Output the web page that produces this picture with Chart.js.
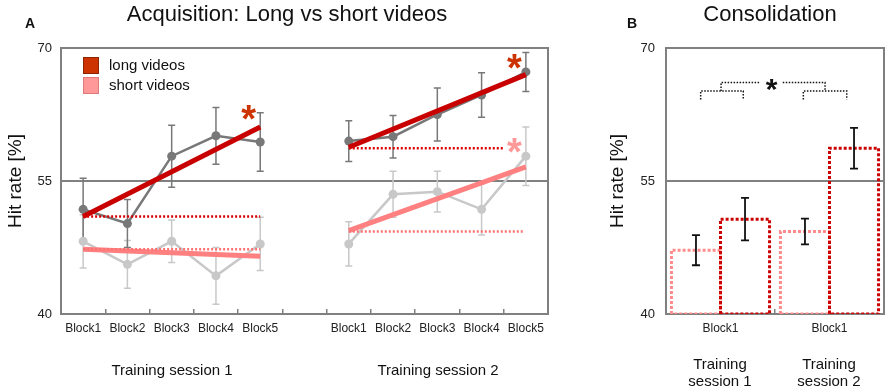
<!DOCTYPE html>
<html><head><meta charset="utf-8">
<script src="https://cdn.jsdelivr.net/npm/chart.js@4.4.1/dist/chart.umd.min.js"></script>
<style>
html,body{margin:0;padding:0;background:#fff;}
body{width:892px;height:391px;position:relative;overflow:hidden;font-family:"Liberation Sans",Arial,sans-serif;color:#111;}
.abs{position:absolute;white-space:nowrap;}
.ctr{transform:translateX(-50%);text-align:center;}
#c1{position:absolute;left:0;top:0;}
#c2{position:absolute;left:590px;top:0;}
.box{position:absolute;width:14px;height:15px;border:1px solid;}
</style></head><body>
<canvas id="c1" width="590" height="391"></canvas>
<canvas id="c2" width="302" height="391"></canvas>
<div class="abs" style="left:25px;top:16px;font-size:14px;line-height:14px;font-weight:bold;">A</div>
<div class="abs" style="left:627px;top:16px;font-size:14px;line-height:14px;font-weight:bold;">B</div>
<div class="abs ctr" style="left:287px;top:3px;font-size:22px;line-height:22px;">Acquisition: Long vs short videos</div>
<div class="abs ctr" style="left:770px;top:3px;font-size:22px;line-height:22px;">Consolidation</div>
<div class="abs ctr" style="left:172px;top:362px;font-size:15px;line-height:15px;">Training session 1</div>
<div class="abs ctr" style="left:438px;top:362px;font-size:15px;line-height:15px;">Training session 2</div>
<div class="abs ctr" style="left:720px;top:355px;font-size:15px;line-height:17px;">Training<br>session 1</div>
<div class="abs ctr" style="left:829px;top:355px;font-size:15px;line-height:17px;">Training<br>session 2</div>
<div class="box" style="left:83px;top:57px;background:#cc3300;border-color:#8a2600;"></div>
<div class="box" style="left:83px;top:77px;background:#ff9999;border-color:#e07a7a;"></div>
<div class="abs" style="left:109px;top:55px;font-size:15px;line-height:20px;">long videos</div>
<div class="abs" style="left:109px;top:75px;font-size:15px;line-height:20px;">short videos</div>
<script>
// ---------- DATA ----------
const categories = ['Block1','Block2','Block3','Block4','Block5','','Block1','Block2','Block3','Block4','Block5'];
const session1Idx = [0,1,2,3,4];
const session2Idx = [6,7,8,9,10];
const yTicks = [40,55,70];

const longS1     = [51.8, 50.2, 57.8, 60.1, 59.4];
const longS1Err  = [3.5, 2.7, 3.5, 3.2, 3.3];
const shortS1    = [48.2, 45.6, 48.2, 44.3, 47.9];
const shortS1Err = [3.0, 2.7, 2.4, 3.2, 3.0];
const longS2     = [59.5, 60.0, 62.5, 64.7, 67.3];
const longS2Err  = [2.3, 2.4, 3.0, 2.5, 2.2];
const shortS2    = [47.9, 53.5, 53.8, 51.8, 57.8];
const shortS2Err = [2.5, 2.6, 2.3, 2.9, 3.3];

// regression lines (start at Block1, end at Block5)
const longTrendS1  = [51.0, 61.1];
const shortTrendS1 = [47.3, 46.5];
const longTrendS2  = [58.8, 67.0];
const shortTrendS2 = [49.4, 56.6];
// baseline (Block1 level) dotted lines: [value, startIdx, endIdx]
const longBaseS1  = [51.0, 0, 4];
const shortBaseS1 = [47.3, 0, 4];
const longBaseS2  = [58.7, 6, 9.48];
const shortBaseS2 = [49.3, 6, 9.94];

// Consolidation
const consCategories = ['Block1','Block1'];
const consShort    = [47.2, 49.3];
const consShortErr = [1.7, 1.45];
const consLong     = [50.7, 58.7];
const consLongErr  = [2.4, 2.3];

// significance annotations
const starsLeft = [
  {x:3.74, y:63.0, color:'#cc3300'},
  {x:9.74, y:68.76, color:'#cc3300'},
  {x:9.74, y:59.3, color:'#ff9999'}
];
const bracketLevels = [64.2, 65.15, 66.1];
const starRight = {x:0.468, y:66.2};

// ---------- HELPERS ----------
const FONT = '"Liberation Sans", Arial, sans-serif';
Chart.defaults.font.family = FONT;
Chart.defaults.color = '#222';
const GRAY = '#808080';
const DARK = '#787878', LIGHT = '#c8c8c8', RED = '#c80000', PINK = '#ff8080';

const pts = (idx, vals) => vals.map((v,k)=>({x:idx[k], y:v}));
const lineDS = (data, color, width, order, extra={}) => Object.assign({
  type:'line', data, xAxisID:'xl', borderColor:color, backgroundColor:color,
  borderWidth:width, pointRadius:0, tension:0, order, fill:false
}, extra);

function makePlugin(cfg){
  return {
    id:'extras'+Math.random().toString(36).slice(2),
    beforeDatasetsDraw(chart){
      const {ctx, chartArea:a} = chart;
      ctx.save(); ctx.strokeStyle = GRAY; ctx.lineWidth = 2;
      ctx.strokeRect(a.left, a.top, a.right-a.left, a.bottom-a.top);
      ctx.restore();
      if(!cfg.errorsOnTop) drawErrors(chart, cfg);
    },
    afterDatasetsDraw(chart){
      if(cfg.errorsOnTop) drawErrors(chart, cfg);
      const ctx = chart.ctx, xs = chart.scales.xl, ys = chart.scales.y;
      (cfg.stars||[]).forEach(s=>{
        ctx.save();
        ctx.font = 'bold '+s.size+'px '+FONT;
        ctx.fillStyle = s.color; ctx.textAlign='center'; ctx.textBaseline='alphabetic';
        ctx.fillText('*', xs.getPixelForValue(s.x), ys.getPixelForValue(s.y) + 0.57*s.size);
        ctx.restore();
      });
    }
  };
}
function drawErrors(chart, cfg){
  const ctx = chart.ctx, xs = chart.scales.xl, ys = chart.scales.y;
  (cfg.errors||[]).forEach(g=>{
    ctx.save(); ctx.strokeStyle = g.color; ctx.lineWidth = g.width;
    g.x.forEach((xv,k)=>{
      const px = xs.getPixelForValue(xv);
      const lo = ys.getPixelForValue(g.y[k]-g.e[k]);
      const hi = ys.getPixelForValue(g.y[k]+g.e[k]);
      ctx.beginPath();
      ctx.moveTo(px,lo); ctx.lineTo(px,hi);
      ctx.moveTo(px-g.cap,lo); ctx.lineTo(px+g.cap,lo);
      ctx.moveTo(px-g.cap,hi); ctx.lineTo(px+g.cap,hi);
      ctx.stroke();
    });
    ctx.restore();
  });
}
function yScale(width, titlePad){
  return {
    min:40, max:70,
    afterBuildTicks(s){ s.ticks = yTicks.map(v=>({value:v})); },
    ticks:{font:{size:13}, color:'#222', padding: width===61 ? 9 : 11},
    grid:{color:GRAY, lineWidth:2, drawTicks:false},
    border:{color:GRAY, width:2},
    title:{display:true, text:'Hit rate [%]', font:{size:19}, color:'#111', padding:{top:titlePad, bottom:0}},
    afterFit(s){ s.width = width; }
  };
}
function xScale(){
  return {
    type:'category', offset:true,
    grid:{offset:true, drawOnChartArea:false, color:GRAY, tickColor:GRAY, lineWidth:1.5, tickLength:-5},
    border:{color:GRAY, width:2},
    ticks:{font:{size:12}, color:'#222', padding:12, maxRotation:0, autoSkip:false},
    afterFit(s){ s.height = 77; }
  };
}

// ---------- LEFT CHART ----------
const leftDatasets = [
  lineDS([{x:longBaseS1[1],y:longBaseS1[0]},{x:longBaseS1[2],y:longBaseS1[0]}], '#dd0000', 2.5, 1, {borderDash:[2,2]}),
  lineDS([{x:shortBaseS1[1],y:shortBaseS1[0]},{x:shortBaseS1[2],y:shortBaseS1[0]}], '#ff7070', 2.5, 1, {borderDash:[2,2]}),
  lineDS([{x:longBaseS2[1],y:longBaseS2[0]},{x:longBaseS2[2],y:longBaseS2[0]}], '#dd0000', 2.5, 1, {borderDash:[2,2]}),
  lineDS([{x:shortBaseS2[1],y:shortBaseS2[0]},{x:shortBaseS2[2],y:shortBaseS2[0]}], '#ff7070', 2.5, 1, {borderDash:[2,2]}),
  lineDS([{x:0,y:longTrendS1[0]},{x:4,y:longTrendS1[1]}], RED, 5, 2),
  lineDS([{x:6,y:longTrendS2[0]},{x:10,y:longTrendS2[1]}], RED, 5, 2),
  lineDS([{x:0,y:shortTrendS1[0]},{x:4,y:shortTrendS1[1]}], PINK, 5, 2),
  lineDS([{x:6,y:shortTrendS2[0]},{x:10,y:shortTrendS2[1]}], PINK, 5, 2),
  lineDS(pts(session1Idx,longS1), DARK, 2.5, 4, {pointRadius:4.5, pointBorderWidth:0}),
  lineDS(pts(session2Idx,longS2), DARK, 2.5, 4, {pointRadius:4.5, pointBorderWidth:0}),
  lineDS(pts(session1Idx,shortS1), LIGHT, 2.5, 5, {pointRadius:4.5, pointBorderWidth:0}),
  lineDS(pts(session2Idx,shortS2), LIGHT, 2.5, 5, {pointRadius:4.5, pointBorderWidth:0})
];
new Chart(document.getElementById('c1'), {
  type:'line',
  data:{labels:categories, datasets:leftDatasets},
  options:{
    responsive:false, animation:false, events:[],
    layout:{padding:{left:0, right:42, top:48, bottom:0}},
    plugins:{legend:{display:false}, tooltip:{enabled:false}},
    scales:{
      x: xScale(),
      xl:{type:'linear', display:false, min:-0.5, max:10.5},
      y: yScale(61, 4)
    }
  },
  plugins:[makePlugin({
    errorsOnTop:false,
    errors:[
      {x:session1Idx.concat(session2Idx), y:shortS1.concat(shortS2), e:shortS1Err.concat(shortS2Err), color:LIGHT, width:1.5, cap:3.5},
      {x:session1Idx.concat(session2Idx), y:longS1.concat(longS2), e:longS1Err.concat(longS2Err), color:DARK, width:1.5, cap:3.5}
    ],
    stars: starsLeft.map(s=>Object.assign({size:38}, s))
  })]
});

// ---------- RIGHT CHART ----------
const rightDatasets = [];
consShort.forEach((v,i)=>{
  rightDatasets.push(lineDS([{x:i-0.45,y:40},{x:i-0.45,y:v},{x:i,y:v},{x:i,y:40},{x:i-0.45,y:40}], '#ff8c8c', 3, 3, {borderDash:[3,2]}));
});
consLong.forEach((v,i)=>{
  rightDatasets.push(lineDS([{x:i,y:40},{x:i,y:v},{x:i+0.45,y:v},{x:i+0.45,y:40},{x:i,y:40}], '#cc0000', 3, 2, {borderDash:[3,2]}));
});
const [bLow, bMid, bTop] = bracketLevels;
const bracketStyle = {borderDash:[1.5,1.5]};
rightDatasets.push(lineDS([{x:-0.182,y:bLow},{x:-0.182,y:bMid},{x:0.209,y:bMid},{x:0.209,y:bLow}], '#111', 1.5, 1, bracketStyle));
rightDatasets.push(lineDS([{x:0.76,y:bLow},{x:0.76,y:bMid},{x:1.158,y:bMid},{x:1.158,y:bLow}], '#111', 1.5, 1, bracketStyle));
rightDatasets.push(lineDS([{x:0.005,y:bMid},{x:0.005,y:bTop},{x:0.362,y:bTop}], '#111', 1.5, 1, bracketStyle));
rightDatasets.push(lineDS([{x:0.571,y:bTop},{x:0.959,y:bTop},{x:0.959,y:bMid}], '#111', 1.5, 1, bracketStyle));

new Chart(document.getElementById('c2'), {
  type:'line',
  data:{labels:consCategories, datasets:rightDatasets},
  options:{
    responsive:false, animation:false, events:[],
    layout:{padding:{left:0, right:8, top:48, bottom:0}},
    plugins:{legend:{display:false}, tooltip:{enabled:false}},
    scales:{
      x: xScale(),
      xl:{type:'linear', display:false, min:-0.5, max:1.5},
      y: yScale(76, 16)
    }
  },
  plugins:[makePlugin({
    errorsOnTop:true,
    errors:[
      {x:[-0.225, 0.775], y:consShort, e:consShortErr, color:'#111', width:1.8, cap:4},
      {x:[0.225, 1.225], y:consLong, e:consLongErr, color:'#111', width:1.8, cap:4}
    ],
    stars:[{x:starRight.x, y:starRight.y, color:'#111', size:30}]
  })]
});
</script>
</body></html>
